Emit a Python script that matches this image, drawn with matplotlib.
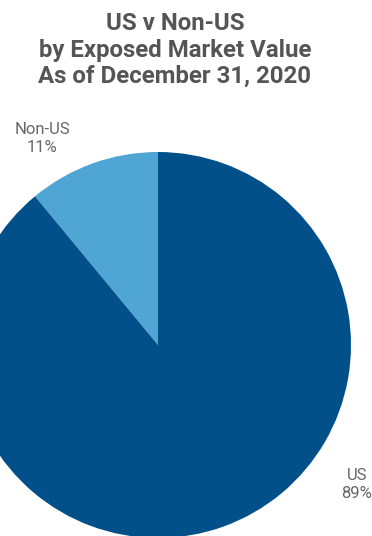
import matplotlib.pyplot as plt

# exposure split, percent of market value
regions = ['Non-US', 'US']
shares = [11, 89]
colors = ['#4fa5d3', '#02508a']

# label anchor points in pixel coords (x, y from top)
label_pos = [(42, 139), (357, 484)]

W, H = 372, 536
fig = plt.figure(figsize=(W / 100, H / 100), dpi=100)
ax = fig.add_axes([0, 0, 1, 1])

ax.pie(shares, colors=colors, startangle=90, counterclock=True,
       center=(158, H - 345), radius=193, frame=True,
       wedgeprops={'linewidth': 0})
ax.set_xlim(0, W)
ax.set_ylim(0, H)
ax.axis('off')

# three-line title, centred on its middle line
fig.text(175 / W, 1 - 50 / H,
         'US v Non-US\nby Exposed Market Value\nAs of December 31, 2020',
         ha='center', va='center', fontsize=17.3, fontweight='bold',
         family='Roboto', color='#555555', linespacing=1.2)

for name, val, (x, y) in zip(regions, shares, label_pos):
    ax.text(x, H - y, f'{name}\n{val}%', ha='center', va='center',
            fontsize=12, family='Roboto', color='#666666', linespacing=1.25)

fig.savefig('out.png', dpi=100)
